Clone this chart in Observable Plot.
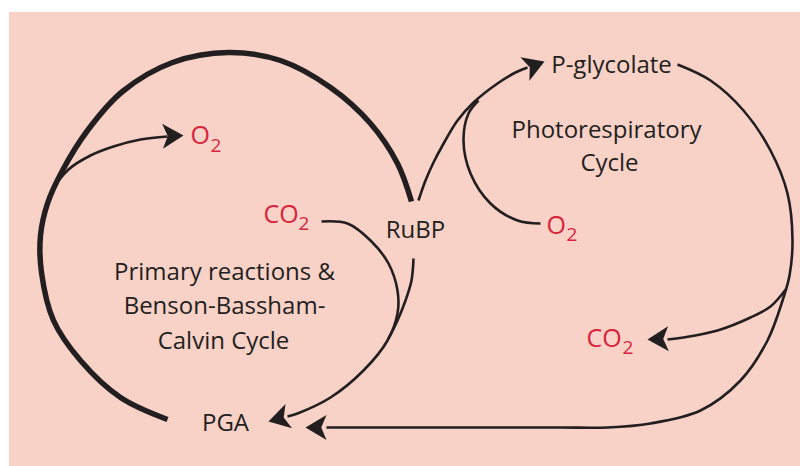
<!DOCTYPE html>
<html>
<head>
<meta charset="utf-8">
<script src="https://cdn.jsdelivr.net/npm/d3@7"></script>
<script src="https://cdn.jsdelivr.net/npm/@observablehq/plot@0.6"></script>
<style>
  html, body { margin: 0; padding: 0; background: #ffffff; }
  #chart svg { display: block; }
</style>
</head>
<body>
<div id="chart"></div>
<script>
// ---- Diagram data (pixel-space coordinates) ----
const panel = [{x1: 9, x2: 800, y1: 12, y2: 466}];

// Thick Benson-Bassham-Calvin cycle arc (RuBP -> around -> PGA)
const calvinArc = [[411,201],[397,163],[370,123],[330,87],[280,60],[228,52],[172,62],[122,91],[87,130],[62,170],[47,203],[40,235],[41,272],[53,320],[80,360],[120,397],[167,419]];
// Thin branch to O2 (left)
const o2Left = [[45,212],[52,190],[68,169],[90,155],[113,146],[140,139],[167,136]];
// CO2 (left) -> PGA
const co2Left = [[321,221],[347,223],[370,240],[388,263],[397,290],[397,313],[387,340],[363,370],[330,397],[297,413],[287,416]];
// RuBP -> joins CO2 curve
const rubpDown = [[413,258],[411,280],[405,300],[397,320],[388,338]];
// RuBP -> P-glycolate
const rubpUp = [[418,200],[425,180],[433,162],[442,145],[457,120],[473,102],[497,83],[515,72],[527,67]];
// O2 (right) joins RuBP -> P-glycolate
const o2Right = [[540,223],[517,220],[490,203],[470,173],[463,140],[468,113],[478,100]];
// P-glycolate -> big right arc -> PGA
const returnArc = [[677,64],[710,80],[743,110],[770,150],[787,193],[792,240],[789,275],[783,297],[767,340],[740,380],[700,410],[650,423],[607,427],[560,427],[450,427],[326,427]];
// Branch to CO2 (right)
const co2Right = [[786,288],[770,306],[750,317],[717,330],[683,337],[667,339]];

const curves = [
  {id: "calvin", pts: calvinArc, w: 5.5},
  {id: "o2Left", pts: o2Left, w: 2.6},
  {id: "co2Left", pts: co2Left, w: 2.6},
  {id: "rubpDown", pts: rubpDown, w: 2.6},
  {id: "rubpUp", pts: rubpUp, w: 2.6},
  {id: "o2Right", pts: o2Right, w: 2.6},
  {id: "returnArc", pts: returnArc, w: 2.6},
  {id: "co2Right", pts: co2Right, w: 2.6}
];

// Arrowheads: tip position and pointing angle (degrees, clockwise from +x)
const arrowX = [183, 268, 544, 305, 647];
const arrowY = [135, 421, 61, 427, 339];
const arrowAngle = [-2, 165, -21, 180, 178];

// Labels
const labelText = ["RuBP", "PGA", "P-glycolate", "Photorespiratory", "Cycle", "Primary reactions &", "Benson-Bassham-", "Calvin Cycle"];
const labelX = [415, 225, 611, 606, 609, 224, 224, 223];
const labelY = [237, 430, 72, 137, 170, 279, 313, 348];

// Chemical species (red): main part and subscript
const chemMain = ["O", "CO", "O", "CO"];
const chemMainX = [190, 263, 546, 586];
const chemMainY = [143, 222, 233, 346];
const chemSub = ["2", "2", "2", "2"];
const chemSubX = [210, 298, 566, 622];
const chemSubY = [151, 229, 240, 353];

// ---- Build tables ----
const lineRows = curves.flatMap(c => c.pts.map(([x, y]) => ({id: c.id, x, y, w: c.w})));
const arrows = arrowX.map((x, i) => ({x, y: arrowY[i], a: arrowAngle[i]}));
const FS = 24;
const labels = labelText.map((t, i) => ({t, x: labelX[i], y: labelY[i] - 0.32 * FS}));
const CFS = 25;
const chems = chemMain.map((t, i) => ({t, x: chemMainX[i], y: chemMainY[i] - 0.32 * CFS}));
const SFS = 19;
const subs = chemSub.map((t, i) => ({t, x: chemSubX[i], y: chemSubY[i] - 0.32 * SFS}));

const ink = "#231f20";
const red = "#d8243c";

// Notched arrowhead symbol: tip at origin, pointing +x; length = r
const arrowHead = {
  draw(context, size) {
    const L = Math.sqrt(size / Math.PI);
    const W = 0.6 * L, N = 0.25 * L;
    context.moveTo(0, 0);
    context.lineTo(-L, -W);
    context.lineTo(-L + N, 0);
    context.lineTo(-L, W);
    context.closePath();
  }
};

const thick = lineRows.filter(d => d.w > 4);
const thin = lineRows.filter(d => d.w <= 4);

const chart = Plot.plot({
  width: 800,
  height: 466,
  margin: 0,
  style: {background: "white", fontFamily: "'Open Sans', sans-serif"},
  x: {domain: [0, 800], range: [0, 800], axis: null},
  y: {domain: [0, 466], range: [0, 466], axis: null},
  marks: [
    Plot.rect(panel, {x1: "x1", x2: "x2", y1: "y1", y2: "y2", fill: "#f8d1c7"}),
    Plot.line(thick, {x: "x", y: "y", z: "id", stroke: ink, strokeWidth: 5.5, curve: "catmull-rom", strokeLinecap: "butt"}),
    Plot.line(thin, {x: "x", y: "y", z: "id", stroke: ink, strokeWidth: 2.6, curve: "catmull-rom", strokeLinecap: "butt"}),
    Plot.dot(arrows, {x: "x", y: "y", rotate: "a", r: 21, symbol: arrowHead, fill: ink, stroke: null}),
    Plot.text(labels, {x: "x", y: "y", text: "t", fontSize: FS, fill: ink, textAnchor: "middle", fontFamily: "'Open Sans', sans-serif"}),
    Plot.text(chems, {x: "x", y: "y", text: "t", fontSize: CFS, fill: red, textAnchor: "start", fontFamily: "'Open Sans', sans-serif"}),
    Plot.text(subs, {x: "x", y: "y", text: "t", fontSize: SFS, fill: red, textAnchor: "start", fontFamily: "'Open Sans', sans-serif"})
  ]
});
document.getElementById("chart").appendChild(chart);
</script>
</body>
</html>
